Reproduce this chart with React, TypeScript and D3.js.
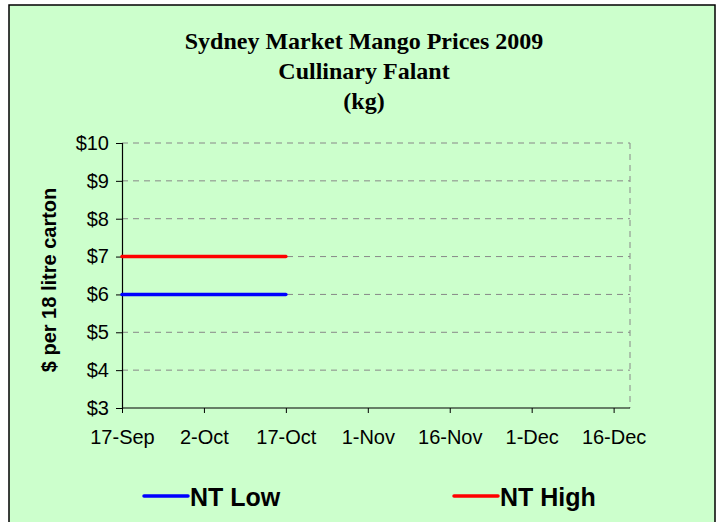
import React, { useRef, useEffect } from 'react';
import * as d3 from 'd3';

const titleLines = ['Sydney Market Mango Prices 2009', 'Cullinary Falant', '(kg)'];
const dates = ['2009-09-17', '2009-09-24', '2009-10-01', '2009-10-08', '2009-10-17'];
const ntLow = [6, 6, 6, 6, 6];
const ntHigh = [7, 7, 7, 7, 7];
const xTickDates = ['2009-09-17', '2009-10-02', '2009-10-17', '2009-11-01', '2009-11-16', '2009-12-01', '2009-12-16'];
const yTicks = [3, 4, 5, 6, 7, 8, 9, 10];

const App = () => {
  const ref = useRef<SVGSVGElement>(null);

  useEffect(() => {
    const svg = d3.select(ref.current);
    svg.selectAll('*').remove();
    const width = 724;
    const height = 522;
    svg.attr('width', width).attr('height', height);

    const parse = d3.timeParse('%Y-%m-%d');
    const fmt = d3.timeFormat('%-d-%b');

    // chart frame
    svg.append('rect').attr('width', width).attr('height', height).attr('fill', '#fff');
    svg.append('rect')
      .attr('x', 9).attr('y', 5).attr('width', 706).attr('height', 530)
      .attr('fill', '#ccffcc').attr('stroke', '#000').attr('stroke-width', 1.5);

    svg.selectAll('.title')
      .data(titleLines)
      .enter()
      .append('text')
      .attr('x', 364)
      .attr('y', (d, i) => 49 + i * 30)
      .attr('text-anchor', 'middle')
      .style('font-family', '"Liberation Serif", serif')
      .style('font-weight', 'bold')
      .style('font-size', '24px')
      .text((d) => d);

    const x = d3.scaleTime()
      .domain([parse('2009-09-17')!, parse('2009-12-19')!])
      .range([122, 630]);
    const y = d3.scaleLinear().domain([3, 10]).range([408, 143]);

    const g = svg.append('g');

    // gridlines
    g.selectAll('.grid')
      .data(yTicks.filter((d) => d > 3))
      .enter()
      .append('line')
      .attr('x1', 122).attr('x2', 630)
      .attr('y1', (d) => y(d)).attr('y2', (d) => y(d))
      .attr('stroke', '#888').attr('stroke-dasharray', '6,5');
    g.append('line')
      .attr('x1', 630).attr('x2', 630).attr('y1', 143).attr('y2', 408)
      .attr('stroke', '#888').attr('stroke-dasharray', '6,5');

    const yAxis = g.append('g')
      .attr('transform', 'translate(122,0)')
      .call(d3.axisLeft(y).tickValues(yTicks).tickSize(6).tickFormat((d) => `$${d}`));
    const xAxis = g.append('g')
      .attr('transform', 'translate(0,408)')
      .call(d3.axisBottom(x).tickValues(xTickDates.map((d) => parse(d)!)).tickSize(5)
        .tickFormat((d) => fmt(d as Date)));
    [yAxis, xAxis].forEach((a) => {
      a.select('.domain').attr('stroke', '#000').attr('stroke-width', 1.2);
      a.selectAll('.tick line').attr('stroke', '#000');
      a.selectAll('text')
        .style('font-family', '"Liberation Sans", Arial, sans-serif')
        .style('font-size', '20px')
        .attr('fill', '#000');
    });
    xAxis.select('.domain').attr('d', 'M122,0H630');
    xAxis.selectAll('text').attr('y', 36).attr('dy', 0);
    yAxis.selectAll('text').attr('x', -13);

    svg.append('text')
      .attr('transform', 'translate(56,280) rotate(-90)')
      .attr('text-anchor', 'middle')
      .style('font-family', '"Liberation Sans", Arial, sans-serif')
      .style('font-weight', 'bold')
      .style('font-size', '20px')
      .text('$ per 18 litre carton');

    const series = [
      { name: 'NT Low', values: ntLow, color: '#0000ff' },
      { name: 'NT High', values: ntHigh, color: '#ff0000' },
    ];
    const line = d3.line<[string, number]>()
      .x((d) => x(parse(d[0])!))
      .y((d) => y(d[1]));
    series.forEach((s) => {
      g.append('path')
        .attr('d', line(dates.map((d, i) => [d, s.values[i]] as [string, number])))
        .attr('fill', 'none')
        .attr('stroke', s.color)
        .attr('stroke-width', 3.5)
        .attr('stroke-linecap', 'round');
    });

    const legend = svg.selectAll('.legend')
      .data(series)
      .enter()
      .append('g')
      .attr('transform', (d, i) => `translate(${144 + i * 310},496)`);
    legend.append('line')
      .attr('x1', 0).attr('x2', 44)
      .attr('stroke', (d) => d.color)
      .attr('stroke-width', 3.5)
      .attr('stroke-linecap', 'round');
    legend.append('text')
      .attr('x', 46).attr('y', 10)
      .style('font-family', '"Liberation Sans", Arial, sans-serif')
      .style('font-weight', 'bold')
      .style('font-size', '25px')
      .text((d) => d.name);
  }, []);

  return <svg ref={ref} style={{ position: 'absolute', left: 0, top: 0 }}></svg>;
};

export default App;
